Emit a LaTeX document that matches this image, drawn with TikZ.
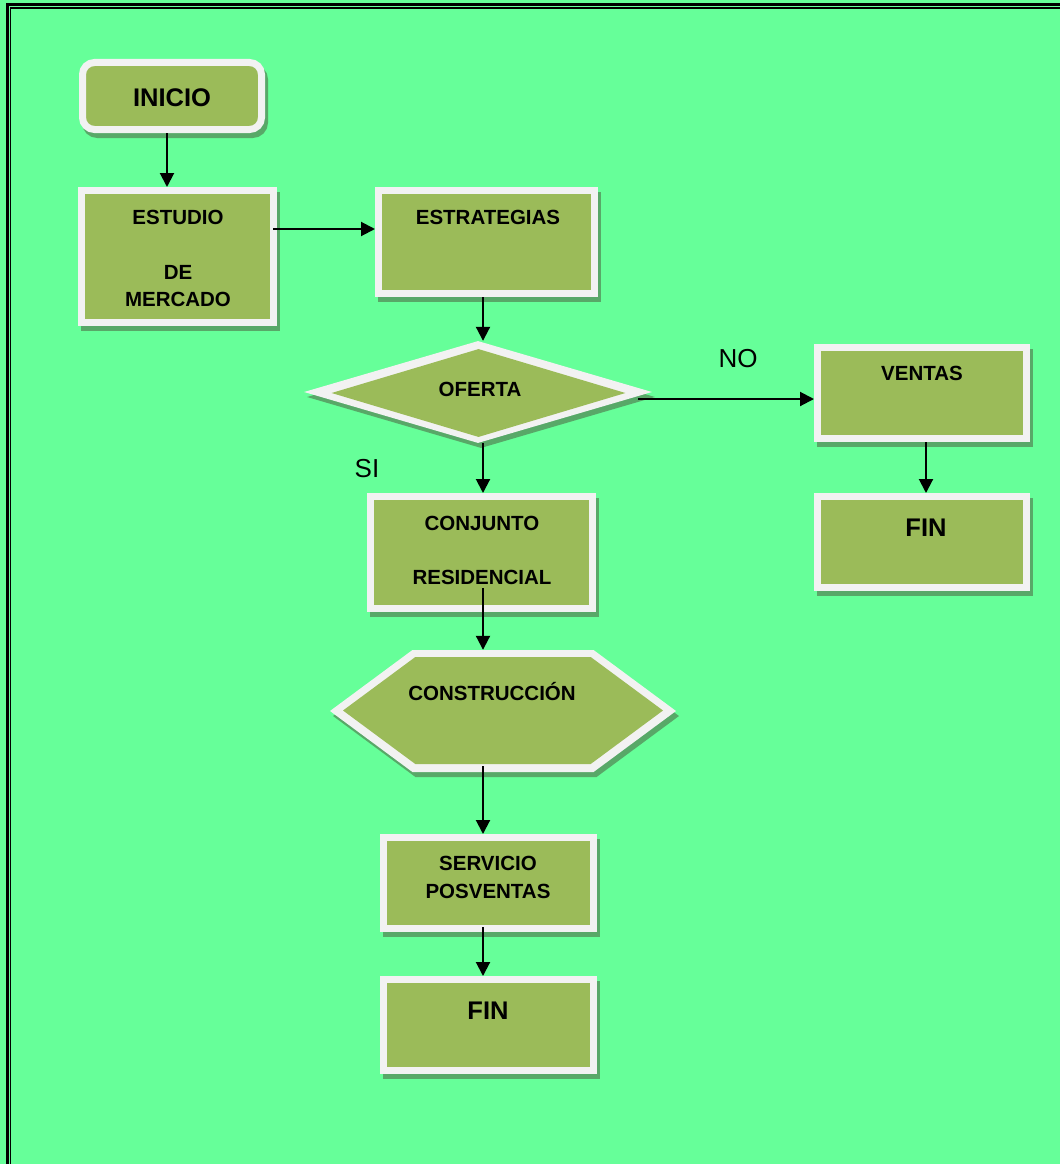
\documentclass[tikz,border=0pt]{standalone}
\usepackage{fontspec}
\setmainfont{Liberation Sans}
\usetikzlibrary{shapes.geometric,shapes.symbols,shadows,arrows.meta}
\definecolor{fondo}{HTML}{66FF99}
\definecolor{verdecaja}{HTML}{9BBB59}
\definecolor{marco}{HTML}{F2F2F2}
\definecolor{sombra}{HTML}{58A868}

\begin{document}
\begin{tikzpicture}[x=1pt, y=-1pt,
  caja/.style={rectangle, draw=marco, line width=7pt, fill=verdecaja, inner sep=0pt, outer sep=3.5pt,
    drop shadow={shadow xshift=3pt, shadow yshift=-5pt, fill=sombra, draw=sombra, line width=7pt, opacity=1}},
  sombrap/.style={drop shadow={shadow xshift=3pt, shadow yshift=-5pt, fill=sombra, opacity=1}},
  flecha/.style={-{Triangle[length=14pt,width=14pt]}, line width=2pt, black},
  txt/.style={font=\bfseries\fontsize{20.5}{24}\selectfont, text height=14.7pt, text depth=0pt, inner sep=0pt},
  txtg/.style={font=\bfseries\fontsize{25.5}{30}\selectfont, text height=18.3pt, text depth=0pt, inner sep=0pt},
  rama/.style={font=\fontsize{26}{30}\selectfont, text height=18.7pt, text depth=0pt, inner sep=0pt}]
\useasboundingbox (0,0) rectangle (1060,1164);
\fill[fondo] (0,0) rectangle (1060,1164);
% Marco doble
\draw[line width=3pt] (7,1164) -- (7,5) -- (1060,5);
\draw[line width=1.2pt] (10.4,1164) -- (10.4,8) -- (1060,8);

% Cajas
\node[caja, rounded corners=12pt, minimum width=179pt, minimum height=67pt] (inicio) at (172,96) {};
\node[caja, minimum width=192pt, minimum height=132pt] (estudio) at (177.5,256.5) {};
\node[caja, minimum width=216pt, minimum height=103pt] (estrat) at (486.5,242) {};
\node[caja, minimum width=209pt, minimum height=91pt] (ventas) at (922,393) {};
\node[caja, minimum width=209pt, minimum height=91pt] (finR) at (922,542) {};
\node[caja, minimum width=222pt, minimum height=112pt] (conj) at (481.5,552.5) {};
\node[caja, minimum width=210pt, minimum height=91pt] (serv) at (488.5,883) {};
\node[caja, minimum width=210pt, minimum height=91pt] (finB) at (488.5,1025) {};

% Decision
\node[diamond, fill=marco, inner sep=0pt, minimum width=348pt, minimum height=102pt, sombrap] (oferta) at (478,392) {};
\node[diamond, fill=verdecaja, inner sep=0pt, minimum width=294pt, minimum height=88pt] (ofertaIn) at (478.5,393) {};

% Hexagono
\node[signal, signal to=west and east, signal pointer angle=73, fill=marco, inner sep=0pt,
  minimum width=346pt, minimum height=122pt, sombrap] (constr) at (503,711) {};
\node[signal, signal to=west and east, signal pointer angle=73, fill=verdecaja, inner sep=0pt,
  minimum width=320pt, minimum height=107pt] (constrIn) at (503,710.5) {};

% Textos
\node[txtg] (tInicio) at (172,97) {INICIO};
\node[txt] (tEstudio) at (178,217) {ESTUDIO};
\node[txt] (tDe) at (178,272) {DE};
\node[txt] (tMercado) at (178,299) {MERCADO};
\node[txt] (tEstrat) at (488,217) {ESTRATEGIAS};
\node[txt] (tOferta) at (480,389) {OFERTA};
\node[txt] (tVentas) at (922,373) {VENTAS};
\node[txtg] (tFinR) at (926,527) {FIN};
\node[txt] (tConj) at (482,523) {CONJUNTO};
\node[txt] (tResid) at (482,577) {RESIDENCIAL};
\node[txt] (tConstr) at (492,693) {CONSTRUCCIÓN};
\node[txt] (tServ) at (488,863) {SERVICIO};
\node[txt] (tPosv) at (488,891) {POSVENTAS};
\node[txtg] (tFinB) at (488,1010) {FIN};
\node[rama] (tNo) at (738,358) {NO};
\node[rama] (tSi) at (367,468) {SI};

% Flechas
\draw[flecha] ([xshift=-5pt]inicio.south) -- ([xshift=-5pt]inicio.south |- estudio.north);
\draw[flecha] ([xshift=-4pt,yshift=27.5pt]estudio.east) -- ([yshift=27.5pt]estudio.east -| estrat.west);
\draw[flecha] ([xshift=-3.5pt]estrat.south) -- ([xshift=-3.5pt]estrat.south |- oferta.north);
\draw[flecha] ([xshift=-14pt,yshift=-7pt]oferta.east) -- ([yshift=-7pt]oferta.east -| ventas.west);
\draw[flecha] ([xshift=4pt]ventas.south) -- ([xshift=4pt]ventas.south |- finR.north);
\draw[flecha] ([xshift=5pt]oferta.south) -- ([xshift=5pt]oferta.south |- conj.north);
\draw[flecha] ([xshift=1.5pt,yshift=24pt]conj.south) -- ([xshift=1.5pt]conj.south |- constr.north);
\draw[flecha] ([xshift=-20pt,yshift=6pt]constr.south) -- ([xshift=-20pt]constr.south |- serv.north);
\draw[flecha] ([xshift=-5.5pt,yshift=5pt]serv.south) -- ([xshift=-5.5pt]serv.south |- finB.north);

\end{tikzpicture}
\end{document}
